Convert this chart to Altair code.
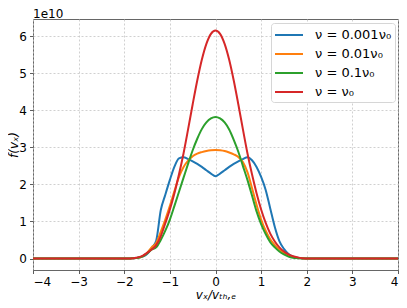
import altair as alt
import pandas as pd

# x positions (v_x / v_th,e)
xs = [-4.0, -2.0, -1.9, -1.8, -1.7, -1.6, -1.5, -1.4, -1.3, -1.2, -1.1, -1.0,
      -0.9, -0.8, -0.7, -0.6, -0.5, -0.4, -0.3, -0.2, -0.1, 0.0,
      0.1, 0.2, 0.3, 0.4, 0.5, 0.6, 0.7, 0.8, 0.9, 1.0,
      1.1, 1.2, 1.3, 1.4, 1.5, 1.6, 1.7, 1.8, 1.9, 2.0, 4.0]

# f(v_x) in units of 1e10
f_0001 = [0, 0, 0, 0.01, 0.02, 0.05, 0.12, 0.28, 0.48, 1.30, 1.72, 2.12,
          2.48, 2.70, 2.73, 2.68, 2.62, 2.55, 2.47, 2.38, 2.29, 2.22,
          2.29, 2.38, 2.47, 2.55, 2.62, 2.68, 2.73, 2.65, 2.47, 2.20,
          1.85, 1.35, 0.85, 0.47, 0.26, 0.12, 0.05, 0.02, 0.01, 0, 0]
f_001 = [0, 0, 0, 0.01, 0.02, 0.06, 0.15, 0.30, 0.42, 0.72, 1.05, 1.42,
         1.82, 2.20, 2.47, 2.64, 2.76, 2.83, 2.87, 2.90, 2.92, 2.93,
         2.92, 2.90, 2.86, 2.81, 2.74, 2.60, 2.33, 1.90, 1.45, 1.05,
         0.75, 0.52, 0.36, 0.24, 0.15, 0.08, 0.04, 0.02, 0.01, 0, 0]
f_01 = [0, 0, 0, 0.01, 0.02, 0.06, 0.14, 0.24, 0.30, 0.50, 0.75, 1.05,
        1.42, 1.80, 2.18, 2.56, 2.92, 3.23, 3.49, 3.67, 3.78, 3.82,
        3.78, 3.67, 3.48, 3.20, 2.88, 2.50, 2.12, 1.70, 1.27, 0.93,
        0.66, 0.44, 0.30, 0.19, 0.11, 0.05, 0.02, 0.01, 0, 0, 0]
f_1 = [0, 0, 0, 0.01, 0.03, 0.07, 0.15, 0.24, 0.36, 0.60, 0.95, 1.32,
       1.76, 2.27, 2.84, 3.49, 4.16, 4.80, 5.36, 5.79, 6.06, 6.15,
       6.06, 5.79, 5.36, 4.80, 4.16, 3.49, 2.84, 2.27, 1.76, 1.32,
       0.96, 0.67, 0.46, 0.30, 0.19, 0.11, 0.06, 0.03, 0.01, 0, 0]

labels = ["ν = 0.001ν₀", "ν = 0.01ν₀", "ν = 0.1ν₀", "ν = ν₀"]
colors = ["#1f77b4", "#ff7f0e", "#2ca02c", "#d62728"]
series = [f_0001, f_001, f_01, f_1]
x_ticks = [-4, -3, -2, -1, 0, 1, 2, 3, 4]
y_ticks = [0, 1, 2, 3, 4, 5, 6]
exponent_label = "1e10"

rows = []
for k, (lab, ys) in enumerate(zip(labels, series)):
    for x, y in zip(xs, ys):
        rows.append({"x": x, "f": y, "series": lab, "k": k})
df = pd.DataFrame(rows)

FONT = "DejaVu Sans"

lines = alt.Chart(df).mark_line(strokeWidth=2, interpolate="monotone", clip=True).encode(
    x=alt.X("x:Q",
            scale=alt.Scale(domain=[-4, 4], nice=False, zero=False),
            axis=alt.Axis(values=x_ticks, format="d", title="vₓ/vₜₕ,ₑ",
                          titlePadding=2)),
    y=alt.Y("f:Q",
            scale=alt.Scale(domain=[-0.31, 6.46], nice=False, zero=False),
            axis=alt.Axis(values=y_ticks, format="d", title="f(vₓ)",
                          titleX=-13)),
    color=alt.Color("series:N",
                    scale=alt.Scale(domain=labels, range=colors),
                    sort=labels,
                    legend=alt.Legend(orient="none", legendX=238, legendY=4,
                                      title=None, labelFontSize=13, labelFont=FONT,
                                      symbolType="M-1,0H2.5", symbolSize=256,
                                      symbolStrokeWidth=2, labelOffset=23,
                                      padding=3, rowPadding=3,
                                      fillColor="white", strokeColor="#d6d6d6",
                                      cornerRadius=3)),
    order=alt.Order("k:Q"),
    detail="series:N",
)

exponent = alt.Chart(pd.DataFrame({"t": [exponent_label]})).mark_text(
    align="left", baseline="alphabetic", font=FONT, fontSize=12, color="black"
).encode(text="t:N", x=alt.value(0), y=alt.value(-1.5))

chart = alt.layer(lines, exponent).properties(
    width=365, height=251,
    padding={"left": 25, "top": 11, "right": 1, "bottom": 36},
    autosize=alt.AutoSizeParams(type="none"),
).configure_view(
    stroke="#666666", strokeWidth=1
).configure_axis(
    domain=False,
    tickColor="#333333", tickSize=3.5, tickWidth=0.8,
    labelFont=FONT, labelFontSize=12, labelColor="black", labelPadding=3,
    titleFont=FONT, titleFontSize=12, titleFontStyle="italic",
    titleFontWeight="normal", titleColor="black",
    grid=True, gridColor="#c4c4c4", gridDash=[2, 2], gridWidth=0.8,
)

chart.save("out.html", embed_options={"renderer": "svg", "actions": False})
